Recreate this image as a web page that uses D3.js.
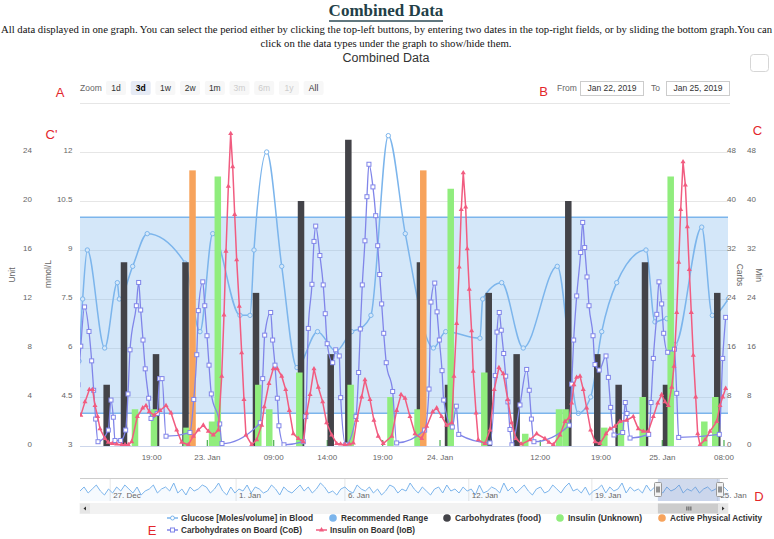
<!DOCTYPE html>
<html><head><meta charset="utf-8">
<script src="https://cdnjs.cloudflare.com/ajax/libs/d3/7.8.5/d3.min.js"></script>
<style>
html,body{margin:0;padding:0;background:#fff;}
svg{display:block;}
text{font-family:"Liberation Sans",Arial,sans-serif;}
</style></head><body>
<svg id="c" width="774" height="539"></svg>
<script>
// ---------------- DATA ----------------
// x values are hours since 22 Jan 2019 00:00
const xTickHours = [19, 24, 33, 38, 43, 48, 60, 67, 72, 80];
const xStartHour = 12.55, xEndHour = 80.52;
// ordinal-axis slot of each tick (fraction of plot width), emulating the stock chart's ordinal axis
const xTickSlots = [0.1106, 0.1965, 0.2989, 0.3816, 0.4671, 0.5556, 0.7103, 0.8040, 0.8986, 0.9938];

const mmolTicks = [3, 4.5, 6, 7.5, 9, 10.5, 12];
const unitTicks = [0, 4, 8, 12, 16, 20, 24];
const carbsTicks = [0, 8, 16, 24, 32, 40, 48];
const minTicks = [0, 8, 16, 24, 32, 40, 48];

const glucose = [[12.46,5.6],[12.79,7.5],[13.21,9.0],[14.77,6.0],[15.91,8.0],[16.09,7.5],[17.29,8.5],[18.60,9.5],[21.99,8.6],[23.34,6.5],[24.73,9.5],[28.43,7.0],[29.79,7.0],[30.33,9.0],[32.05,12.0],[33.75,8.5],[35.17,5.4],[37.09,6.5],[38.79,5.9],[40.20,6.5],[41.01,6.6],[41.94,7.0],[43.49,12.5],[44.97,9.5],[47.42,6.0],[48.68,6.5],[52.78,6.3],[53.11,7.5],[55.38,8.0],[57.96,6.0],[61.96,8.5],[64.38,4.0],[65.81,4.5],[67.06,6.5],[68.28,8.0],[70.67,9.0],[71.40,6.8],[72.57,6.9],[73.65,6.1],[77.11,9.7],[78.49,7.0],[80.56,7.5]];

const rangeLow = 4.0, rangeHigh = 10.0;

const carbs = [[14.95,10],[16.51,30],[19.39,15],[22.04,30],[30.60,25],[35.55,40],[38.31,15],[39.90,50],[46.25,30],[48.96,10],[53.83,25],[57.17,15],[63.23,40],[66.57,15],[68.44,10],[70.59,30],[72.48,10],[79.13,25]];

const insulin = [[17.50,3],[19.21,3],[22.13,1.5],[24.64,2],[25.42,22],[30.91,5],[32.40,3],[35.39,6],[40.11,5],[43.68,4],[46.04,3],[49.28,21],[53.30,6],[58.20,1],[62.16,3],[62.91,3],[67.27,1.5],[68.63,2],[70.40,4],[73.09,22],[77.45,2],[78.87,4]];

const activity = [[22.67,45],[46.54,45]];

const cob = [[12.37,10],[12.62,16.3],[12.96,22.7],[13.36,18.7],[13.60,13.9],[13.78,9.1],[13.96,4.4],[14.17,0.7],[15.10,2.6],[15.34,7.5],[15.55,4.7],[15.70,0.9],[16.21,0.9],[16.66,2.6],[16.87,8.5],[17.05,15.7],[17.62,22.9],[17.83,26.7],[18.01,22.2],[18.22,17.3],[18.42,12.6],[18.73,7.8],[18.94,4.5],[19.50,5.3],[19.72,11.0],[19.93,11.0],[20.29,1.6],[22.44,2.2],[22.78,7.6],[23.05,14.9],[23.19,22.1],[23.59,26.8],[23.77,22.9],[23.97,18.0],[24.23,13.2],[24.54,8.5],[25.68,3.6],[25.99,0.4],[31.18,3.8],[31.51,11.0],[31.78,18.1],[32.59,21.8],[32.86,17.3],[33.12,13.2],[33.34,7.8],[33.49,3.3],[33.96,0.2],[35.76,0.7],[35.99,4.8],[36.23,19.2],[36.57,26.4],[36.76,33.4],[36.92,35.9],[37.31,31.1],[37.62,26.3],[37.81,21.6],[37.99,16.7],[38.49,13.6],[38.76,15.7],[39.08,14.7],[39.21,7.9],[39.66,0.2],[40.59,4.8],[40.83,12.0],[40.98,19.1],[41.16,26.3],[41.40,33.5],[41.58,40.7],[41.76,46.0],[42.12,42.3],[42.37,37.6],[42.55,32.7],[42.73,28.0],[42.91,23.2],[43.09,18.4],[43.31,13.6],[43.87,8.9],[44.22,0.5],[46.66,2.6],[47.04,9.3],[47.21,23.5],[47.54,26.6],[47.74,21.9],[47.94,17.3],[48.24,12.3],[48.44,7.5],[49.47,3.1],[49.95,6.5],[50.24,1.9],[53.98,0.5],[54.61,11.5],[54.82,18.6],[55.09,21.8],[55.33,18.9],[55.62,15.1],[55.86,11.4],[56.13,7.2],[56.37,2.7],[56.61,0.2],[57.57,6.7],[58.37,12.5],[58.68,9.1],[58.94,4.4],[59.24,0.7],[63.34,3.4],[63.62,10.1],[63.85,17.3],[64.20,24.5],[64.66,31.6],[64.89,36.5],[65.12,32.4],[65.39,27.6],[65.62,22.9],[66.08,18.0],[66.31,13.3],[66.80,12.4],[67.41,14.7],[67.60,11.2],[67.79,6.3],[68.06,1.8],[68.77,2.2],[68.98,7.1],[69.12,5.3],[69.37,1.3],[70.89,1.9],[71.08,7.1],[71.27,14.3],[71.55,21.5],[71.73,26.8],[71.95,23.2],[72.18,18.4],[72.70,15.3],[73.58,15.8],[73.87,8.6],[74.13,1.4],[79.39,1.9],[79.83,14.3],[80.22,21.0]];

const iob = [[12.62,2.5],[13.00,3.6],[13.39,4.6],[13.69,4.6],[13.90,3.3],[14.14,2.4],[14.35,1.4],[14.80,0.6],[15.10,0.3],[15.45,0.2],[15.85,0.15],[16.30,0.1],[16.60,0.1],[16.90,0.1],[17.20,0.35],[17.71,2.4],[18.19,3.1],[18.49,3.3],[18.78,2.8],[19.23,2.5],[19.75,2.9],[20.29,3.3],[20.74,2.7],[21.25,1.3],[21.70,0.3],[22.29,0.1],[22.74,0.8],[23.19,1.3],[23.64,1.7],[24.14,1.2],[24.81,0.9],[25.49,1.3],[25.95,5.7],[26.26,10.7],[26.53,15.9],[26.85,21.2],[27.17,25.5],[27.44,22.8],[27.71,18.9],[27.98,15.2],[28.34,11.4],[28.66,7.6],[28.97,3.8],[29.24,0.9],[30.02,0.1],[30.69,0.5],[31.37,1.7],[31.72,3.2],[32.36,5.1],[32.94,6.3],[33.34,6.3],[33.75,5.7],[34.12,4.6],[34.46,2.9],[34.83,1.0],[35.30,0.6],[35.76,0.35],[36.08,2.7],[36.39,4.2],[36.76,6.3],[37.16,4.8],[37.57,3.6],[37.94,1.9],[38.40,0.9],[38.85,0.2],[39.20,0.15],[39.60,0.1],[40.00,0.15],[40.35,0.25],[40.65,2.1],[41.10,4.0],[41.40,5.4],[41.85,3.8],[42.21,2.1],[42.60,0.8],[43.05,0.2],[43.79,0.8],[44.22,2.9],[44.60,4.2],[44.95,3.9],[45.38,2.4],[45.82,1.0],[46.40,0.6],[46.84,1.6],[47.36,2.8],[47.71,3.1],[48.20,2.4],[48.80,1.7],[49.40,1.9],[49.67,5.7],[49.99,10.0],[50.30,14.6],[50.54,19.3],[50.78,22.3],[51.07,19.5],[51.26,16.1],[51.50,12.8],[51.78,9.4],[51.97,6.1],[52.31,2.7],[52.58,0.5],[53.38,0.2],[53.98,1.3],[54.49,4.6],[55.05,6.4],[55.57,5.9],[56.10,3.8],[56.57,1.9],[57.09,0.6],[57.77,0.15],[58.76,0.5],[59.57,1.0],[60.54,0.6],[61.00,0.3],[61.50,0.1],[62.27,0.9],[62.85,2.0],[63.34,2.3],[63.62,3.5],[63.88,5.0],[64.19,5.6],[64.58,5.7],[64.96,4.6],[65.35,3.1],[65.81,1.3],[66.31,0.35],[66.88,0.2],[67.41,1.0],[67.73,1.4],[68.14,1.6],[68.55,2.0],[69.09,2.1],[69.63,2.4],[70.04,1.4],[70.45,1.2],[70.86,1.2],[71.27,2.4],[71.63,3.5],[71.95,4.2],[72.35,3.6],[72.78,3.3],[73.22,4.8],[73.52,6.5],[73.87,10.9],[74.13,15.0],[74.39,19.3],[74.69,23.2],[74.99,21.3],[75.25,17.9],[75.50,14.4],[75.76,10.9],[76.02,7.4],[76.33,4.0],[76.59,1.0],[76.89,0.1],[77.54,0.5],[78.19,1.2],[79.06,2.0],[79.48,3.3],[79.83,4.0],[80.22,4.7]];

// navigator (whole history, glucose mmol/L, evenly spaced readings)
const navGlucose = [
 7,9,6,8,10,7,5,8,6,9,7,10,8,6,9,5,7,8,10,6,
 8,9,7,11,6,8,5,9,7,8,10,9,6,8,11,7,5,9,6,8,
 7,10,6,9,8,6,7,10,8,5,9,7,6,8,10,7,9,6,8,11,
 9,6,7,5,8,9,7,6,10,8,7,9,6,8,5,7,10,9,6,8,
 7,11,8,6,9,7,5,8,9,6,10,7,8,6,9,7,8,5,10,6,
 7,9,8,6,11,7,9,6,8,10,7,5,8,9,6,7,10,8,6,9,
 11,7,8,6,9,5,7,8,10,6,9,7,8,11,6,9,7,8,6,10,
 7,9,8,6,9,7,8,10,6,8,7,9,6,8,9,7,8,6,9,7];
const navTickLabels = ["27. Dec", "1. Jan", "6. Jan", "12. Jan", "19. Jan", "25. Jan"];
const navTickIndex = [7.4, 38.3, 65, 95.4, 125.6, 156.4];
const navSelection = [141.8, 157.0];

const zoomButtons = ["1d","3d","1w","2w","1m","3m","6m","1y","All"];
const zoomSelected = "3d";
const zoomDisabled = ["3m","6m","1y"];
const fromDate = "Jan 22, 2019", toDateLabel = "Jan 25, 2019";

const legendRow1 = ["Glucose [Moles/volume] in Blood","Recommended Range","Carbohydrates (food)","Insulin (Unknown)","Active Physical Activity"];
const legendRow2 = ["Carbohydrates on Board (CoB)","Insulin on Board (IoB)"];

// ---------------- LAYOUT ----------------
const svg = d3.select("#c");
const L = 80, R = 728, T = 152, B = 446;
const C = {glu:"#7cb5ec", carb:"#434348", ins:"#90ed7d", act:"#f7a35c", cob:"#8085e9", iob:"#f15c80"};
const base = new Date(2019, 0, 22, 0, 0, 0);
const toDate = h => new Date(base.getTime() + h * 3600e3);

const x = d3.scaleTime()
  .domain([xStartHour, ...xTickHours, xEndHour].map(toDate))
  .range([0, ...xTickSlots, 1].map(f => L + f * (R - L)));
const yMmol = d3.scaleLinear().domain([3, 12]).range([B, T]);
const yUnit = d3.scaleLinear().domain([0, 24]).range([B, T]);
const yCarb = d3.scaleLinear().domain([0, 48]).range([B, T]);
const yMin = d3.scaleLinear().domain([0, 48]).range([B, T]);
const X = d => x(toDate(d[0]));

// header
svg.append("text").attr("x", 386).attr("y", 16).attr("text-anchor", "middle")
  .style("font-family", "Liberation Serif").attr("font-weight", "bold").attr("font-size", 17)
  .attr("fill", "#233f48").text("Combined Data");
svg.append("line").attr("x1", 329).attr("x2", 443).attr("y1", 21).attr("y2", 21)
  .attr("stroke", "#2d4a54").attr("stroke-width", 1.5);
svg.append("text").attr("x", 1).attr("y", 33).style("font-family", "Liberation Serif")
  .attr("font-size", 10.3).attr("fill", "#111").attr("textLength", 771).attr("lengthAdjust", "spacingAndGlyphs")
  .text("All data displayed in one graph. You can select the period either by clicking the top-left buttons, by entering two dates in the top-right fields, or by sliding the bottom graph.You can");
svg.append("text").attr("x", 386).attr("y", 47).attr("text-anchor", "middle").style("font-family", "Liberation Serif")
  .attr("font-size", 10.3).attr("fill", "#111").attr("textLength", 251).attr("lengthAdjust", "spacingAndGlyphs")
  .text("click on the data types under the graph to show/hide them.");
svg.append("text").attr("x", 386).attr("y", 62).attr("text-anchor", "middle")
  .attr("font-size", 12.5).attr("fill", "#333").text("Combined Data");
svg.append("rect").attr("x", 750.5).attr("y", 54.5).attr("width", 18).attr("height", 17).attr("rx", 3)
  .attr("fill", "#fff").attr("stroke", "#d6d6d6");

// range selector
svg.append("text").attr("x", 80).attr("y", 90.5).attr("font-size", 8.5).attr("fill", "#666").text("Zoom");
const zb = svg.append("g").selectAll("g").data(zoomButtons).join("g")
  .attr("transform", (d, i) => `translate(${106 + i * 24.7},81)`);
zb.append("rect").attr("width", 20).attr("height", 14).attr("rx", 2)
  .attr("fill", d => d === zoomSelected ? "#e6ebf5" : "#f7f7f7");
zb.append("text").attr("x", 10).attr("y", 10).attr("text-anchor", "middle").attr("font-size", 8.5)
  .attr("font-weight", d => d === zoomSelected ? "bold" : "normal")
  .attr("fill", d => zoomDisabled.includes(d) ? "#cccccc" : (d === zoomSelected ? "#000" : "#333")).text(d => d);
svg.append("text").attr("x", 557).attr("y", 90.5).attr("font-size", 8.5).attr("fill", "#666").text("From");
svg.append("rect").attr("x", 580.5).attr("y", 81.5).attr("width", 63).attr("height", 14).attr("fill", "#fff").attr("stroke", "#cccccc");
svg.append("text").attr("x", 612).attr("y", 91).attr("text-anchor", "middle").attr("font-size", 8.5).attr("fill", "#333").text(fromDate);
svg.append("text").attr("x", 651).attr("y", 90.5).attr("font-size", 8.5).attr("fill", "#666").text("To");
svg.append("rect").attr("x", 666.5).attr("y", 81.5).attr("width", 63).attr("height", 14).attr("fill", "#fff").attr("stroke", "#cccccc");
svg.append("text").attr("x", 698).attr("y", 91).attr("text-anchor", "middle").attr("font-size", 8.5).attr("fill", "#333").text(toDateLabel);
svg.append("line").attr("x1", 80).attr("x2", 730).attr("y1", 103.5).attr("y2", 103.5).attr("stroke", "#e6e6e6");

// grid
svg.append("g").selectAll("line").data(mmolTicks).join("line")
  .attr("x1", L).attr("x2", R).attr("y1", d => Math.round(yMmol(d)) + 0.5).attr("y2", d => Math.round(yMmol(d)) + 0.5)
  .attr("stroke", "#e6e6e6");

svg.append("defs").append("clipPath").attr("id", "plot").append("rect")
  .attr("x", L).attr("y", 100).attr("width", R - L).attr("height", B - 100 + 1);
const plot = svg.append("g").attr("clip-path", "url(#plot)");

// glucose line (series 0, below the band)
const gluLine = d3.line().x(X).y(d => yMmol(d[1])).curve(d3.curveMonotoneX);
plot.append("path").datum(glucose).attr("d", gluLine).attr("fill", "none").attr("stroke", C.glu).attr("stroke-width", 1.5);
plot.append("g").selectAll("circle").data(glucose).join("circle")
  .attr("cx", X).attr("cy", d => yMmol(d[1])).attr("r", 2.2)
  .attr("fill", "#fff").attr("stroke", C.glu).attr("stroke-width", 1);

// recommended range band
const band = [[xStartHour - 1, rangeLow, rangeHigh], [xEndHour + 1, rangeLow, rangeHigh]];
plot.append("path").datum(band)
  .attr("d", d3.area().x(X).y0(d => yMmol(d[1])).y1(d => yMmol(d[2])))
  .attr("fill", C.glu).attr("fill-opacity", 0.33);
[1, 2].forEach(k => plot.append("path").datum(band)
  .attr("d", d3.line().x(X).y(d => yMmol(d[k])))
  .attr("fill", "none").attr("stroke", C.glu).attr("stroke-width", 1.5));

// small green tick marks at axis ticks
plot.append("g").selectAll("line").data(xTickHours).join("line")
  .attr("x1", d => x(toDate(d))).attr("x2", d => x(toDate(d))).attr("y1", B).attr("y2", B - 6)
  .attr("stroke", "#4caf50").attr("stroke-width", 1.2);

// columns
const BW = 6.5;
function bars(data, yS, color) {
  plot.append("g").selectAll("rect").data(data).join("rect")
    .attr("x", d => X(d) - BW / 2).attr("width", BW)
    .attr("y", d => yS(d[1])).attr("height", d => B - yS(d[1]))
    .attr("fill", color);
}
bars(carbs, yCarb, C.carb);
bars(insulin, yUnit, C.ins);
bars(activity, yMin, C.act);

// carbs on board
plot.append("path").datum(cob).attr("d", d3.line().x(X).y(d => yCarb(d[1])).curve(d3.curveMonotoneX))
  .attr("fill", "none").attr("stroke", C.cob).attr("stroke-width", 1.3);
plot.append("g").selectAll("rect").data(cob).join("rect")
  .attr("x", d => X(d) - 2).attr("y", d => yCarb(d[1]) - 2).attr("width", 4).attr("height", 4)
  .attr("fill", "#fff").attr("stroke", C.cob).attr("stroke-width", 1);

// insulin on board
plot.append("path").datum(iob).attr("d", d3.line().x(X).y(d => yUnit(d[1])))
  .attr("fill", "none").attr("stroke", C.iob).attr("stroke-width", 1.5);
const tri = d3.symbol(d3.symbolTriangle).size(11);
plot.append("g").selectAll("path").data(iob).join("path")
  .attr("d", tri).attr("transform", d => `translate(${X(d)},${yUnit(d[1])})`).attr("fill", C.iob);

// x axis
svg.append("line").attr("x1", L).attr("x2", R).attr("y1", B + 0.5).attr("y2", B + 0.5).attr("stroke", "#ccd6eb");
const fmt = d => (d.getHours() === 0 ? d3.timeFormat("%-d. %b")(d) : d3.timeFormat("%H:%M")(d));
svg.append("g").selectAll("text").data(xTickHours).join("text")
  .attr("x", d => x(toDate(d))).attr("y", 459.5).attr("text-anchor", "middle")
  .attr("font-size", 8).attr("fill", "#666").text(d => fmt(toDate(d)));

// y axes
function yLabels(ticks, yS, xp, anchor, f) {
  svg.append("g").selectAll("text").data(ticks).join("text")
    .attr("x", xp).attr("y", d => yS(d) + 0.5).attr("text-anchor", anchor)
    .attr("font-size", 8).attr("fill", "#666").text(f || (d => d));
}
yLabels(unitTicks, yUnit, 32, "end");
yLabels(mmolTicks, yMmol, 72.5, "end");
yLabels(carbsTicks, yCarb, 727, "start");
yLabels(minTicks, yMin, 747, "start");
function axisTitle(t, xp, yp, rot) {
  svg.append("text").attr("transform", `translate(${xp},${yp}) rotate(${rot})`).attr("text-anchor", "middle")
    .attr("font-size", 8.5).attr("fill", "#666").text(t);
}
axisTitle("Unit", 15, 275, -90);
axisTitle("mmol/L", 50.5, 274, -90);
axisTitle("Carbs", 737, 275, 90);
axisTitle("Min", 756, 275, 90);

// navigator
const NT = 478, NB = 501;
const nx = d3.scaleLinear().domain([0, navGlucose.length - 1]).range([L, R]);
const ny = d3.scaleLinear().domain([3, 12]).range([499, 481]);
svg.append("g").selectAll("line").data(navTickIndex).join("line")
  .attr("x1", d => nx(d)).attr("x2", d => nx(d)).attr("y1", NT).attr("y2", NB).attr("stroke", "#e6e6e6");
svg.append("path").datum(navGlucose)
  .attr("d", d3.area().x((d, i) => nx(i)).y0(NB).y1(d => ny(d)))
  .attr("fill", C.glu).attr("fill-opacity", 0.07);
svg.append("path").datum(navGlucose)
  .attr("d", d3.line().x((d, i) => nx(i)).y(d => ny(d)))
  .attr("fill", "none").attr("stroke", C.glu).attr("stroke-width", 1);
svg.append("g").selectAll("text").data(navTickLabels).join("text")
  .attr("x", (d, i) => nx(navTickIndex[i]) + 3).attr("y", 498).attr("font-size", 8).attr("fill", "#666").text(d => d);
const s0 = nx(navSelection[0]), s1 = nx(navSelection[1]);
svg.append("rect").attr("x", s0).attr("y", NT).attr("width", s1 - s0).attr("height", NB - NT)
  .attr("fill", "rgba(102,133,194,0.3)");
svg.append("line").attr("x1", L).attr("x2", R).attr("y1", NT + 0.5).attr("y2", NT + 0.5).attr("stroke", "#cccccc");
[s0, s1].forEach(hx => {
  const g = svg.append("g").attr("transform", `translate(${Math.round(hx) - 3.5},${482.5})`);
  g.append("rect").attr("width", 7).attr("height", 14).attr("rx", 1).attr("fill", "#f2f2f2").attr("stroke", "#999");
  g.append("line").attr("x1", 2.5).attr("x2", 2.5).attr("y1", 4).attr("y2", 10).attr("stroke", "#333");
  g.append("line").attr("x1", 4.5).attr("x2", 4.5).attr("y1", 4).attr("y2", 10).attr("stroke", "#333");
});
// scrollbar
const SY = 503.5, SH = 10;
svg.append("rect").attr("x", L).attr("y", SY).attr("width", R - L).attr("height", SH).attr("fill", "#f2f2f2").attr("stroke", "#f2f2f2");
svg.append("rect").attr("x", s0).attr("y", SY).attr("width", s1 - s0).attr("height", SH).attr("fill", "#cccccc");
[-2, 0, 2].forEach(o => svg.append("line").attr("x1", (s0 + s1) / 2 + o).attr("x2", (s0 + s1) / 2 + o)
  .attr("y1", SY + 3).attr("y2", SY + 7).attr("stroke", "#333").attr("stroke-width", 0.8));
svg.append("rect").attr("x", L).attr("y", SY).attr("width", 10).attr("height", SH).attr("fill", "#e6e6e6");
svg.append("rect").attr("x", R - 10).attr("y", SY).attr("width", 10).attr("height", SH).attr("fill", "#e6e6e6");
svg.append("path").attr("d", `M${L + 6},${SY + 3}L${L + 3.5},${SY + 5}L${L + 6},${SY + 7}Z`).attr("fill", "#333");
svg.append("path").attr("d", `M${R - 6},${SY + 3}L${R - 3.5},${SY + 5}L${R - 6},${SY + 7}Z`).attr("fill", "#333");

// legend
const lg = svg.append("g").attr("font-size", 8.7).attr("font-weight", "bold").attr("fill", "#333");
function legendText(t, xp, yp, w) {
  lg.append("text").attr("x", xp).attr("y", yp).attr("textLength", w).attr("lengthAdjust", "spacingAndGlyphs").text(t);
}
function lineSym(xp, yp, color, marker) {
  lg.append("line").attr("x1", xp).attr("x2", xp + 11).attr("y1", yp).attr("y2", yp).attr("stroke", color).attr("stroke-width", 1.5);
  if (marker === "c") lg.append("circle").attr("cx", xp + 5.5).attr("cy", yp).attr("r", 2).attr("fill", "#fff").attr("stroke", color);
  if (marker === "s") lg.append("rect").attr("x", xp + 3.5).attr("y", yp - 2).attr("width", 4).attr("height", 4).attr("fill", "#fff").attr("stroke", color);
  if (marker === "t") lg.append("path").attr("d", tri).attr("transform", `translate(${xp + 5.5},${yp})`).attr("fill", color);
}
function dotSym(xp, yp, color) {
  lg.append("circle").attr("cx", xp).attr("cy", yp).attr("r", 3.8).attr("fill", color);
}
const r1 = 518, r2 = 530;
lineSym(167, r1, C.glu, "c"); legendText(legendRow1[0], 181, r1 + 3, 132);
dotSym(333, r1, C.glu); legendText(legendRow1[1], 341, r1 + 3, 87);
dotSym(447, r1, C.carb); legendText(legendRow1[2], 455, r1 + 3, 86);
dotSym(560, r1, C.ins); legendText(legendRow1[3], 568, r1 + 3, 74);
dotSym(662, r1, C.act); legendText(legendRow1[4], 670, r1 + 3, 92);
lineSym(167, r2, C.cob, "s"); legendText(legendRow2[0], 181, r2 + 3, 121);
lineSym(316, r2, C.iob, "t"); legendText(legendRow2[1], 330, r2 + 3, 85);

// annotation letters
const notes = [["A", 60, 96.5], ["B", 543.5, 96], ["C'", 51.5, 139], ["C", 757.5, 134.5], ["D", 759, 500.5], ["E", 152, 535]];
svg.append("g").selectAll("text").data(notes).join("text")
  .attr("x", d => d[1]).attr("y", d => d[2]).attr("text-anchor", "middle")
  .attr("font-size", 13).attr("fill", "#e3262b").text(d => d[0]);
</script>
</body></html>
